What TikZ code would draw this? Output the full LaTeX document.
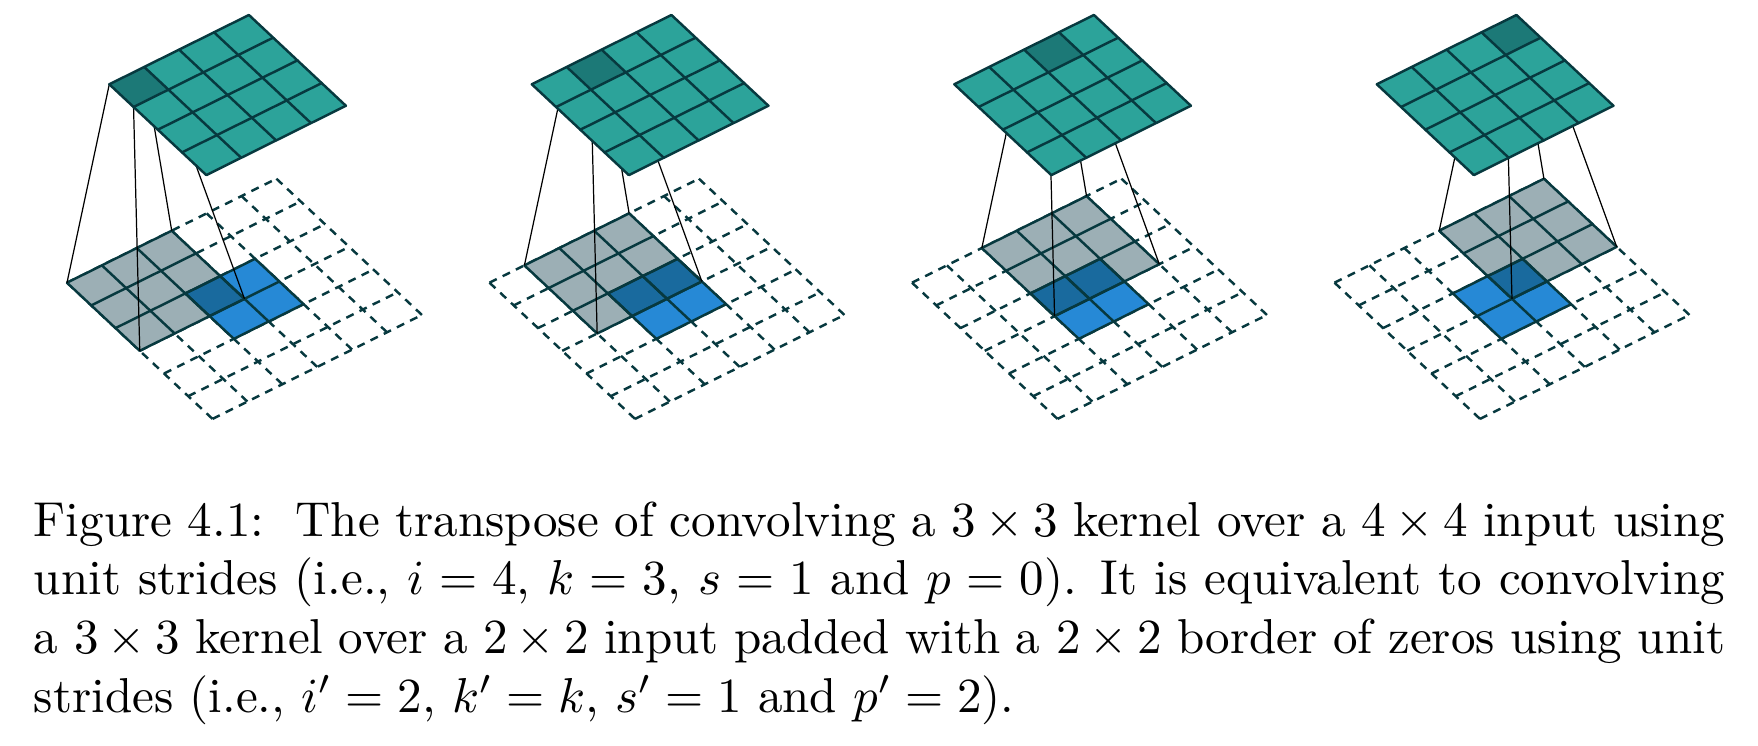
\documentclass[tikz,border=0pt]{standalone}
\usepackage{amsmath,amssymb}
\usepackage{xcolor}
\usetikzlibrary{calc}
\definecolor{tdInk}{HTML}{07393F}
\definecolor{tdTeal}{HTML}{2CA39A}
\definecolor{tdTealD}{HTML}{1C7977}
\definecolor{tdGray}{HTML}{9CAFB5}
\definecolor{tdBlue}{HTML}{2689D6}
\definecolor{tdBlueD}{HTML}{196A9E}
\newcommand{\cellgrid}[4]{%
  \foreach \gi in {#1,...,#3} \draw[gridline] (\gi,#2) -- (\gi,#4);
  \foreach \gj in {#2,...,#4} \draw[gridline] (#1,\gj) -- (#3,\gj);
}
\begin{document}
\begin{tikzpicture}[
    x=0.204pt, y=-0.204pt,
    cellaxes/.style={x={(7.12pt,3.535pt)}, y={(4.947pt,-4.631pt)}},
    gridline/.style={draw=tdInk, line width=0.5pt, line cap=round},
    padline/.style={draw=tdInk, line width=0.5pt, dash pattern=on 1.65pt off 1.35pt},
    tie/.style={draw=black, line width=0.25pt},
]
\useasboundingbox (0,0) rectangle (1758,746);

% ---- Four steps: kernel slides along the first row ----
\foreach \pos/\kend/\ovlo/\ovhi in {0/3/2/3, 1/4/2/4, 2/5/2/4, 3/6/3/4} {

  % ---- Input plane (padded) ----
  \begin{scope}[shift={(67+\pos*422.5,282.7)}, cellaxes]
    \foreach \gi in {0,...,6} {
      \draw[padline] (\gi,0) -- (\gi,6);
      \draw[padline] (0,\gi) -- (6,\gi);
    }
    \fill[tdGray] (\pos,0) -- (\kend,0) -- (\kend,3) -- (\pos,3) -- cycle;
    \fill[tdBlue] (2,2) -- (4,2) -- (4,4) -- (2,4) -- cycle;
    \fill[tdBlueD] (\ovlo,2) -- (\ovhi,2) -- (\ovhi,3) -- (\ovlo,3) -- cycle;
    \cellgrid{\pos}{0}{\kend}{3}
    \cellgrid{2}{2}{4}{4}
    \coordinate (kernA\pos) at (\pos,0);
    \coordinate (kernB\pos) at (\kend,0);
    \coordinate (kernC\pos) at (\pos,3);
    \coordinate (kernD\pos) at (\kend,3);
  \end{scope}

  % ---- Output plane coordinates ----
  \begin{scope}[shift={(109.3+\pos*422.5,84.3)}, cellaxes]
    \coordinate (cellA\pos) at (\pos,0);
    \coordinate (cellB\pos) at (\pos+1,0);
    \coordinate (cellC\pos) at (\pos,1);
    \coordinate (cellD\pos) at (\pos+1,1);
  \end{scope}

  \draw[tie] (cellA\pos) -- (kernA\pos);
  \draw[tie] (cellB\pos) -- (kernB\pos);
  \draw[tie] (cellC\pos) -- (kernC\pos);
  \draw[tie] (cellD\pos) -- (kernD\pos);

  % ---- Output plane ----
  \begin{scope}[shift={(109.3+\pos*422.5,84.3)}, cellaxes]
    \fill[tdTeal] (0,0) -- (4,0) -- (4,4) -- (0,4) -- cycle;
    \fill[tdTealD] (cellA\pos) -- (cellB\pos) -- (cellD\pos) -- (cellC\pos) -- cycle;
    \cellgrid{0}{0}{4}{4}
  \end{scope}
}

% ---- Caption ----
\node[anchor=north west, inner sep=0pt, text width=345pt, align=justify] (caption) at (33,500.5)
  {Figure 4.1:\hspace{2pt} The transpose of convolving a $3\times3$ kernel over a $4\times4$ input using
   unit strides (i.e., $i=4$, $k=3$, $s=1$ and $p=0$). It is equivalent to convolving
   a $3\times3$ kernel over a $2\times2$ input padded with a $2\times2$ border of zeros using unit
   strides (i.e., $i'=2$, $k'=k$, $s'=1$ and $p'=2$).};

\end{tikzpicture}
\end{document}
